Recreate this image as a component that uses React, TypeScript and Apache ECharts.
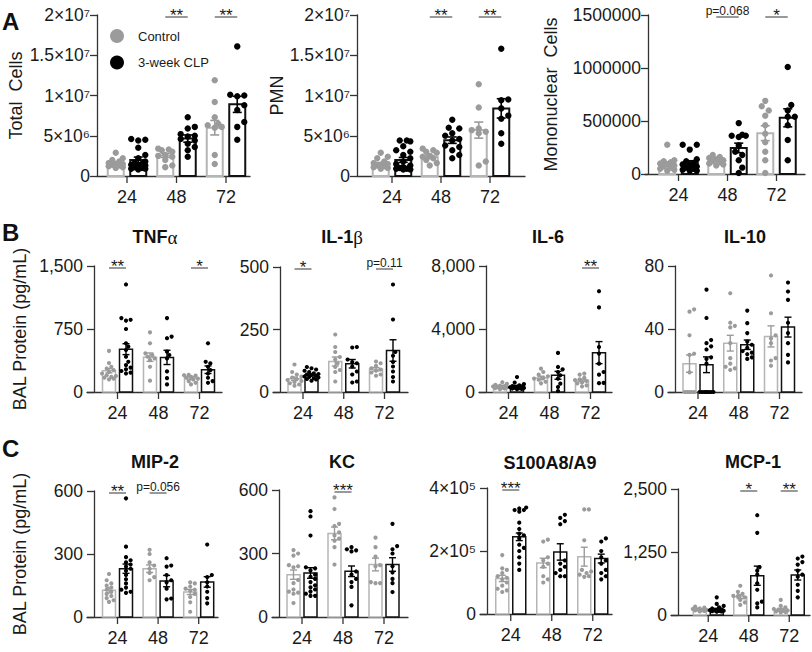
import React, { useEffect, useRef } from 'react';
import * as echarts from 'echarts';

const FONT = '"Liberation Sans", Arial, Helvetica, sans-serif';
const HOURS = ['24', '48', '72'];
const GROUPS = ['Control', '3-week CLP'];

// ---------- A: Total cells ----------
const TOTAL_CTRL_PTS = [
  [2.9e6, 2.2e6, 2.0e6, 1.8e6, 1.6e6, 1.5e6, 1.4e6, 1.4e6, 1.3e6, 1.2e6, 1.1e6, 1.0e6],
  [3.4e6, 3.3e6, 3.2e6, 3.0e6, 2.6e6, 2.5e6, 2.4e6, 2.0e6, 1.3e6, 1.1e6],
  [11.9e6, 9.2e6, 7.3e6, 6.5e6, 6.3e6, 6.1e6, 6.0e6, 2.6e6, 1.5e6],
];
const TOTAL_CTRL_MEAN = [1.6e6, 2.55e6, 6.0e6];
const TOTAL_CTRL_SEM = [0.2e6, 0.25e6, 0.9e6];
const TOTAL_CLP_PTS = [
  [4.6e6, 4.5e6, 4.4e6, 3.5e6, 2.6e6, 2.2e6, 1.8e6, 1.6e6, 1.5e6, 1.4e6, 1.3e6, 1.2e6, 1.1e6, 1.0e6, 0.9e6, 0.9e6, 0.8e6],
  [7.3e6, 6.1e6, 5.9e6, 5.2e6, 5.0e6, 4.9e6, 4.6e6, 4.4e6, 4.0e6, 3.6e6, 3.2e6, 2.4e6],
  [16.1e6, 10.1e6, 10.0e6, 9.9e6, 8.8e6, 8.2e6, 6.7e6, 6.1e6, 4.5e6],
];
const TOTAL_CLP_MEAN = [2.0e6, 4.65e6, 8.9e6];
const TOTAL_CLP_SEM = [0.35e6, 0.45e6, 1.0e6];
const TOTAL_SIG = ['', '**', '**'];
const TOTAL_TICKS = ['0', '5×10⁶', '1×10⁷', '1.5×10⁷', '2×10⁷'];

// ---------- A: PMN ----------
const PMN_CTRL_PTS = [
  [2.9e6, 2.4e6, 2.2e6, 1.8e6, 1.6e6, 1.5e6, 1.4e6, 1.3e6, 1.2e6, 1.1e6, 1.0e6, 0.9e6],
  [3.4e6, 3.2e6, 3.0e6, 2.9e6, 2.5e6, 2.4e6, 2.2e6, 2.0e6, 1.6e6, 1.3e6],
  [11.4e6, 8.5e6, 5.9e6, 5.7e6, 5.5e6, 5.3e6, 1.8e6, 1.3e6],
];
const PMN_CTRL_MEAN = [1.5e6, 2.35e6, 5.7e6];
const PMN_CTRL_SEM = [0.17e6, 0.2e6, 1.0e6];
const PMN_CLP_PTS = [
  [4.4e6, 4.4e6, 4.3e6, 3.7e6, 3.2e6, 3.0e6, 2.6e6, 2.2e6, 1.8e6, 1.5e6, 1.3e6, 1.1e6, 1.0e6, 0.9e6, 0.9e6, 0.8e6, 0.8e6],
  [7.0e6, 6.0e6, 5.9e6, 5.3e6, 5.0e6, 4.6e6, 4.4e6, 3.8e6, 3.6e6, 3.2e6, 2.6e6, 2.2e6],
  [15.8e6, 9.5e6, 9.4e6, 8.4e6, 7.5e6, 7.1e6, 5.3e6, 4.0e6],
];
const PMN_CLP_MEAN = [2.0e6, 4.45e6, 8.4e6];
const PMN_CLP_SEM = [0.3e6, 0.4e6, 1.2e6];
const PMN_SIG = ['', '**', '**'];

// ---------- A: Mononuclear cells ----------
const MONO_CTRL_PTS = [
  [2.75e5, 1.3e5, 1.2e5, 1.1e5, 1.0e5, 0.9e5, 0.8e5, 0.7e5, 0.6e5, 0.5e5, 0.4e5, 0.3e5],
  [1.8e5, 1.6e5, 1.5e5, 1.4e5, 1.3e5, 1.2e5, 1.1e5, 1.0e5, 0.9e5, 0.8e5],
  [6.9e5, 6.4e5, 6.0e5, 5.5e5, 4.6e5, 3.8e5, 3.0e5, 2.1e5, 1.3e5, 0.1e5],
];
const MONO_CTRL_MEAN = [0.95e5, 1.26e5, 3.85e5];
const MONO_CTRL_SEM = [0.2e5, 0.1e5, 0.7e5];
const MONO_CLP_PTS = [
  [2.75e5, 2.75e5, 2.3e5, 1.4e5, 1.2e5, 1.0e5, 0.9e5, 0.8e5, 0.7e5, 0.6e5, 0.5e5, 0.4e5, 0.3e5, 0.3e5],
  [4.8e5, 3.7e5, 3.6e5, 3.6e5, 3.5e5, 2.7e5, 2.1e5, 1.8e5, 1.3e5, 0.6e5, 0.1e5],
  [10.1e5, 6.5e5, 6.0e5, 5.4e5, 5.4e5, 4.6e5, 3.2e5, 1.3e5],
];
const MONO_CLP_MEAN = [1.05e5, 2.46e5, 5.3e5];
const MONO_CLP_SEM = [0.2e5, 0.45e5, 0.85e5];
const MONO_SIG = ['', 'p=0.068', '*'];
const MONO_TICKS = ['0', '500000', '1000000', '1500000'];

// ---------- B: TNFα ----------
const TNF_CTRL_PTS = [
  [490, 345, 300, 280, 260, 240, 220, 200, 190, 180, 170, 160, 150],
  [710, 580, 460, 440, 420, 400, 380, 300, 135],
  [205, 200, 195, 180, 170, 160, 150, 130, 110, 90],
];
const TNF_CTRL_MEAN = [253, 415, 166];
const TNF_CTRL_SEM = [25, 50, 18];
const TNF_CLP_PTS = [
  [1280, 880, 860, 850, 750, 580, 540, 500, 420, 360, 320, 290, 270, 250, 230, 220],
  [880, 660, 640, 480, 440, 400, 245, 165, 90],
  [580, 360, 340, 300, 260, 220, 170, 130, 110],
];
const TNF_CLP_MEAN = [510, 412, 265];
const TNF_CLP_SEM = [65, 85, 45];
const TNF_SIG = ['**', '', '*'];
const TNF_TICKS = ['0', '750', '1,500'];

// ---------- B: IL-1β ----------
const IL1_CTRL_PTS = [
  [110, 80, 70, 62, 58, 52, 48, 44, 40, 35, 30, 25],
  [230, 180, 160, 140, 130, 115, 100, 88, 80, 42],
  [122, 115, 105, 95, 90, 85, 78, 70, 65],
];
const IL1_CTRL_MEAN = [53, 122, 91];
const IL1_CTRL_SEM = [7, 18, 7];
const IL1_CLP_PTS = [
  [100, 95, 90, 85, 80, 75, 72, 70, 68, 65, 62, 60, 58, 55, 52, 50, 45],
  [180, 178, 130, 120, 115, 102, 82, 70, 42, 38],
  [430, 290, 160, 145, 120, 102, 82, 60, 42],
];
const IL1_CLP_MEAN = [69, 113, 166];
const IL1_CLP_SEM = [4, 17, 43];
const IL1_SIG = ['*', '', 'p=0.11'];
const IL1_TICKS = ['0', '250', '500'];

// ---------- B: IL-6 ----------
const IL6_CTRL_PTS = [
  [620, 520, 450, 400, 380, 350, 320, 300, 280, 250, 220, 180],
  [1480, 1270, 1100, 1000, 900, 850, 780, 650, 550],
  [1170, 1100, 900, 800, 750, 700, 600, 550, 420, 350],
];
const IL6_CTRL_MEAN = [380, 890, 740];
const IL6_CTRL_SEM = [40, 110, 80];
const IL6_CLP_PTS = [
  [950, 600, 500, 420, 380, 350, 320, 300, 280, 260, 240, 220, 200, 180],
  [2480, 1590, 1440, 1270, 1060, 850, 530, 320, 60],
  [6400, 5370, 2860, 2440, 1800, 1270, 1100, 580, 560],
];
const IL6_CLP_MEAN = [360, 1060, 2500];
const IL6_CLP_SEM = [60, 250, 700];
const IL6_SIG = ['', '', '**'];
const IL6_TICKS = ['0', '4,000', '8,000'];

// ---------- B: IL-10 ----------
const IL10_CTRL_PTS = [
  [52.5, 51, 36, 24.3, 23.6, 12.5, 0, 0, 0, 0, 0],
  [62.7, 44, 42, 41, 31, 21.5, 18, 16, 15, 14],
  [74, 50, 36, 34, 31, 21.5, 20, 16.7],
];
const IL10_CTRL_MEAN = [18, 31, 35.3];
const IL10_CTRL_SEM = [5.5, 5, 6.7];
const IL10_CLP_PTS = [
  [65, 47, 33, 31, 29, 27, 22, 21, 18, 0, 0, 0, 0, 0, 0, 0, 0],
  [51.7, 43.7, 37.4, 32, 30, 28, 26, 25, 24, 22, 21],
  [69.5, 63.8, 58.5, 44, 37.4, 31, 23.6, 18.8],
];
const IL10_CLP_MEAN = [17.3, 30, 41.2];
const IL10_CLP_SEM = [5, 3, 6.3];
const IL10_SIG = ['', '', ''];
const IL10_TICKS = ['0', '40', '80'];

// ---------- C: MIP-2 ----------
const MIP_CTRL_PTS = [
  [205, 175, 160, 150, 140, 130, 120, 110, 100, 90, 80, 72],
  [320, 300, 260, 245, 230, 210, 190, 175],
  [165, 160, 145, 135, 130, 125, 110, 95, 70, 25],
];
const MIP_CTRL_MEAN = [127, 230, 119];
const MIP_CTRL_SEM = [12, 18, 12];
const MIP_CLP_PTS = [
  [565, 335, 285, 270, 260, 250, 240, 230, 220, 200, 180, 160, 140, 130, 120, 115],
  [280, 245, 240, 200, 175, 165, 135, 88, 84],
  [345, 200, 190, 165, 145, 120, 90, 65],
];
const MIP_CLP_MEAN = [230, 171, 167];
const MIP_CLP_SEM = [22, 27, 25];
const MIP_SIG = ['**', 'p=0.056', ''];
const MIP_TICKS = ['0', '300', '600'];

// ---------- C: KC ----------
const KC_CTRL_PTS = [
  [316, 300, 290, 245, 240, 235, 175, 160, 130, 120, 115, 110, 66],
  [565, 510, 440, 430, 400, 385, 370, 360, 330, 248],
  [375, 330, 285, 245, 240, 165, 160, 160],
];
const KC_CTRL_MEAN = [200, 395, 248];
const KC_CTRL_SEM = [22, 30, 30];
const KC_CLP_PTS = [
  [500, 475, 385, 235, 230, 220, 200, 190, 180, 165, 150, 140, 130, 120, 110, 100, 100],
  [330, 320, 315, 310, 215, 200, 180, 165, 142, 55],
  [440, 335, 320, 300, 240, 210, 180, 160, 118],
];
const KC_CLP_MEAN = [208, 216, 248];
const KC_CLP_SEM = [25, 25, 32];
const KC_SIG = ['', '***', ''];
const KC_TICKS = ['0', '300', '600'];

// ---------- C: S100A8/A9 ----------
const S100_CTRL_PTS = [
  [1.87e5, 1.45e5, 1.4e5, 1.3e5, 1.2e5, 1.15e5, 1.1e5, 1.0e5, 0.9e5, 0.8e5, 0.75e5, 0.7e5],
  [2.36e5, 2.3e5, 1.8e5, 1.7e5, 1.6e5, 1.5e5, 1.2e5, 1.1e5, 1.0e5],
  [3.32e5, 3.32e5, 2.34e5, 1.4e5, 1.35e5, 1.3e5, 1.25e5, 1.2e5, 1.18e5],
];
const S100_CTRL_MEAN = [1.13e5, 1.62e5, 1.82e5];
const S100_CTRL_SEM = [0.1e5, 0.15e5, 0.3e5];
const S100_CLP_PTS = [
  [3.38e5, 3.35e5, 3.3e5, 3.3e5, 3.25e5, 2.9e5, 2.7e5, 2.55e5, 2.5e5, 2.4e5, 2.2e5, 2.1e5, 2.0e5, 1.8e5, 1.6e5, 1.4e5],
  [3.15e5, 3.05e5, 2.95e5, 2.85e5, 1.7e5, 1.6e5, 1.5e5, 1.4e5, 1.3e5, 1.2e5, 1.2e5],
  [2.4e5, 2.3e5, 2.0e5, 1.8e5, 1.7e5, 1.6e5, 1.4e5, 1.3e5, 1.2e5, 1.1e5],
];
const S100_CLP_MEAN = [2.45e5, 1.97e5, 1.76e5];
const S100_CLP_SEM = [0.12e5, 0.26e5, 0.14e5];
const S100_SIG = ['***', '', ''];
const S100_TICKS = ['0', '2×10⁵', '4×10⁵'];

// ---------- C: MCP-1 ----------
const MCP_CTRL_PTS = [
  [165, 145, 130, 120, 110, 100, 95, 90, 80, 70],
  [580, 460, 420, 380, 370, 350, 300, 250, 200],
  [300, 180, 150, 120, 100, 90, 80, 70, 60, 50],
];
const MCP_CTRL_MEAN = [112, 364, 112];
const MCP_CTRL_SEM = [10, 40, 20];
const MCP_CLP_PTS = [
  [350, 220, 180, 150, 130, 110, 100, 95, 90, 85, 80, 75, 70, 65],
  [1980, 1630, 950, 880, 800, 630, 500, 265, 230, 150],
  [1160, 1120, 1050, 1000, 880, 800, 760, 600, 480, 350],
];
const MCP_CLP_MEAN = [112, 780, 794];
const MCP_CLP_SEM = [20, 190, 100];
const MCP_SIG = ['', '*', '**'];
const MCP_TICKS = ['0', '1,250', '2,500'];

// ---------- styling ----------
const AXIS = '#333333';
const TXT = '#1a1a1a';
const COL = [
  { pt: '#9b9b9b', bar: '#b5b5b5', err: '#9b9b9b' },
  { pt: '#000000', bar: '#111111', err: '#000000' },
];
const ST_A = { barW: 16, bw: 2, ew: 1.6, d: 11.25, r: 3.2, cap: 9, tickFs: 17.5, lblMargin: 7, stub: 0 };
const ST_BC = { barW: 13, bw: 1.5, ew: 1.4, d: 8.5, r: 2.1, cap: 7, tickFs: 17.5, lblMargin: 11, stub: 7 };

const PANELS = [
  { yName: 'Total  Cells', nameGap: 72, max: 2e7, ticks: TOTAL_TICKS, st: ST_A,
    g: [[TOTAL_CTRL_PTS, TOTAL_CTRL_MEAN, TOTAL_CTRL_SEM], [TOTAL_CLP_PTS, TOTAL_CLP_MEAN, TOTAL_CLP_SEM]], sig: TOTAL_SIG,
    box: { axisX: 97, top: 15, bottom: 176, xEnd: 250, c0: 127, s: 49.5 } },
  { yName: 'PMN', nameGap: 62, max: 2e7, ticks: TOTAL_TICKS, st: ST_A,
    g: [[PMN_CTRL_PTS, PMN_CTRL_MEAN, PMN_CTRL_SEM], [PMN_CLP_PTS, PMN_CLP_MEAN, PMN_CLP_SEM]], sig: PMN_SIG,
    box: { axisX: 357, top: 15, bottom: 176, xEnd: 525, c0: 392, s: 49 } },
  { yName: 'Mononuclear  Cells', nameGap: 88, max: 1.5e6, ticks: MONO_TICKS, st: { ...ST_A, stub: 3 },
    g: [[MONO_CTRL_PTS, MONO_CTRL_MEAN, MONO_CTRL_SEM], [MONO_CLP_PTS, MONO_CLP_MEAN, MONO_CLP_SEM]], sig: MONO_SIG,
    box: { axisX: 648, top: 15, bottom: 174, xEnd: 805, c0: 678.5, s: 49 } },
  { yName: 'BAL Protein (pg/mL)', nameGap: 65, max: 1500, ticks: TNF_TICKS, st: ST_BC,
    g: [[TNF_CTRL_PTS, TNF_CTRL_MEAN, TNF_CTRL_SEM], [TNF_CLP_PTS, TNF_CLP_MEAN, TNF_CLP_SEM]], sig: TNF_SIG,
    box: { axisX: 94, top: 266, bottom: 392, xEnd: 222, c0: 117.5, s: 41 } },
  { yName: '', nameGap: 0, max: 500, ticks: IL1_TICKS, st: ST_BC,
    g: [[IL1_CTRL_PTS, IL1_CTRL_MEAN, IL1_CTRL_SEM], [IL1_CLP_PTS, IL1_CLP_MEAN, IL1_CLP_SEM]], sig: IL1_SIG,
    box: { axisX: 280, top: 267, bottom: 392, xEnd: 408, c0: 303, s: 40.75 } },
  { yName: '', nameGap: 0, max: 8000, ticks: IL6_TICKS, st: ST_BC,
    g: [[IL6_CTRL_PTS, IL6_CTRL_MEAN, IL6_CTRL_SEM], [IL6_CLP_PTS, IL6_CLP_MEAN, IL6_CLP_SEM]], sig: IL6_SIG,
    box: { axisX: 486, top: 266, bottom: 392, xEnd: 612, c0: 508.5, s: 41 } },
  { yName: '', nameGap: 0, max: 80, ticks: IL10_TICKS, st: ST_BC,
    g: [[IL10_CTRL_PTS, IL10_CTRL_MEAN, IL10_CTRL_SEM], [IL10_CLP_PTS, IL10_CLP_MEAN, IL10_CLP_SEM]], sig: IL10_SIG,
    box: { axisX: 675, top: 266, bottom: 392, xEnd: 802, c0: 698, s: 40.75 } },
  { yName: 'BAL Protein (pg/mL)', nameGap: 65, max: 600, ticks: MIP_TICKS, st: ST_BC,
    g: [[MIP_CTRL_PTS, MIP_CTRL_MEAN, MIP_CTRL_SEM], [MIP_CLP_PTS, MIP_CLP_MEAN, MIP_CLP_SEM]], sig: MIP_SIG,
    box: { axisX: 94, top: 491, bottom: 617, xEnd: 218, c0: 117.5, s: 40.6 } },
  { yName: '', nameGap: 0, max: 600, ticks: KC_TICKS, st: ST_BC,
    g: [[KC_CTRL_PTS, KC_CTRL_MEAN, KC_CTRL_SEM], [KC_CLP_PTS, KC_CLP_MEAN, KC_CLP_SEM]], sig: KC_SIG,
    box: { axisX: 279, top: 490, bottom: 617, xEnd: 408, c0: 302, s: 41 } },
  { yName: '', nameGap: 0, max: 4e5, ticks: S100_TICKS, st: ST_BC,
    g: [[S100_CTRL_PTS, S100_CTRL_MEAN, S100_CTRL_SEM], [S100_CLP_PTS, S100_CLP_MEAN, S100_CLP_SEM]], sig: S100_SIG,
    box: { axisX: 487, top: 488, bottom: 614, xEnd: 612, c0: 510.75, s: 41 } },
  { yName: '', nameGap: 0, max: 2500, ticks: MCP_TICKS, st: ST_BC,
    g: [[MCP_CTRL_PTS, MCP_CTRL_MEAN, MCP_CTRL_SEM], [MCP_CLP_PTS, MCP_CLP_MEAN, MCP_CLP_SEM]], sig: MCP_SIG,
    box: { axisX: 678, top: 489, bottom: 615, xEnd: 810, c0: 708.25, s: 40.5 } },
];

const TITLES = [
  { text: '{b|TNF}{g|α}', x: 155, y: 237 },
  { text: '{b|IL-1}{g|β}', x: 342, y: 237 },
  { text: '{b|IL-6}', x: 548, y: 237 },
  { text: '{b|IL-10}', x: 745, y: 237 },
  { text: '{b|MIP-2}', x: 155, y: 462 },
  { text: '{b|KC}', x: 342, y: 462 },
  { text: '{b|S100A8/A9}', x: 550, y: 463 },
  { text: '{b|MCP-1}', x: 753, y: 462 },
];
const LETTERS = [
  { text: 'A', x: 2, y: 21 },
  { text: 'B', x: 2, y: 232 },
  { text: 'C', x: 2, y: 448 },
];

function swarm(ys: number[], r: number, lim: number): number[] {
  const n = ys.length;
  const xs = new Array(n).fill(0);
  const order = ys.map((_, i) => i).sort((a, b) => ys[b] - ys[a]);
  const placed: number[] = [];
  const step = r * 1.1;
  const minD = r * 2 * 0.95;
  for (const i of order) {
    let best = 0;
    let bestScore = -Infinity;
    for (let m = 0; m < 60; m++) {
      const off = (m % 2 === 1 ? 1 : -1) * Math.ceil(m / 2) * step;
      if (Math.abs(off) > lim) continue;
      let dmin = Infinity;
      for (const j of placed) {
        const dx = off - xs[j];
        const dy = ys[i] - ys[j];
        dmin = Math.min(dmin, Math.sqrt(dx * dx + dy * dy));
      }
      if (dmin >= minD) { best = off; break; }
      if (dmin > bestScore) { bestScore = dmin; best = off; }
    }
    xs[i] = best;
    placed.push(i);
  }
  return xs;
}

function makeBarRender(pts: number[][], g: number, st: any) {
  const col = COL[g];
  return (_params: any, api: any) => {
    const k = api.value(0);
    const mean = api.value(1);
    const sem = api.value(2);
    const base = api.coord([k, 0]);
    const cx = base[0] + (g === 0 ? -st.d : st.d);
    const y0 = base[1];
    const ym = api.coord([k, mean])[1];
    const yHi = api.coord([k, mean + sem])[1];
    const yLo = api.coord([k, Math.max(0, mean - sem)])[1];
    const children: any[] = [];
    children.push({ type: 'rect', shape: { x: cx - st.barW / 2, y: ym, width: st.barW, height: y0 - ym },
      style: { fill: '#ffffff', stroke: col.bar, lineWidth: st.bw } });
    const ys = pts[k].map((v: number) => api.coord([k, v])[1]);
    const xs = swarm(ys, st.r, st.barW / 2 + st.r * 0.8);
    ys.forEach((y: number, j: number) => children.push({ type: 'circle', shape: { cx: cx + xs[j], cy: y, r: st.r }, style: { fill: col.pt } }));
    const h = st.cap / 2;
    const es = { stroke: col.err, lineWidth: st.ew };
    children.push({ type: 'line', shape: { x1: cx, y1: yHi, x2: cx, y2: yLo }, style: es });
    children.push({ type: 'line', shape: { x1: cx - h, y1: yHi, x2: cx + h, y2: yHi }, style: es });
    children.push({ type: 'line', shape: { x1: cx - h, y1: yLo, x2: cx + h, y2: yLo }, style: es });
    return { type: 'group', children };
  };
}

function makeDecorRender(p: any) {
  return (_params: any, api: any) => {
    const k = api.value(0);
    const base = api.coord([k, 0]);
    const children: any[] = [
      { type: 'line', shape: { x1: base[0], y1: base[1], x2: base[0], y2: base[1] + 7 }, style: { stroke: AXIS, lineWidth: 1.3 } },
      { type: 'text', x: base[0], y: base[1] + 12, style: { text: HOURS[k], fontSize: 18, fontFamily: FONT, fill: TXT, align: 'center', verticalAlign: 'top' } },
    ];
    const s = p.sig[k];
    if (s) {
      const yl = api.coord([k, p.max])[1] + 2;
      children.push({ type: 'line', shape: { x1: base[0] - p.st.d, y1: yl, x2: base[0] + p.st.d, y2: yl }, style: { stroke: '#555555', lineWidth: 1.2 } });
      const isP = s.charAt(0) === 'p';
      children.push({ type: 'text', x: base[0], y: isP ? yl - 0.5 : yl + 7,
        style: { text: s, fontSize: isP ? 12 : 17, fontFamily: FONT, fill: TXT, align: 'center', verticalAlign: 'bottom' } });
    }
    return { type: 'group', children };
  };
}

function buildOption() {
  const grid: any[] = [];
  const xAxis: any[] = [];
  const yAxis: any[] = [];
  const series: any[] = [];
  PANELS.forEach((p, i) => {
    const b = p.box;
    const st = p.st;
    const gl = b.axisX - st.stub;
    grid.push({ left: gl, top: b.top, width: b.xEnd - gl, height: b.bottom - b.top, containLabel: false });
    xAxis.push({
      gridIndex: i, type: 'value', min: (gl - b.c0) / b.s, max: (b.xEnd - b.c0) / b.s,
      axisLine: { show: true, onZero: false, lineStyle: { color: AXIS, width: 1.3 } },
      axisTick: { show: false }, axisLabel: { show: false }, splitLine: { show: false },
    });
    const interval = p.max / (p.ticks.length - 1);
    yAxis.push({
      gridIndex: i, type: 'value', min: 0, max: p.max, interval, offset: -st.stub,
      axisLine: { show: true, onZero: false, lineStyle: { color: AXIS, width: 1.3 } },
      axisTick: { show: true, length: 7, lineStyle: { color: AXIS, width: 1.3 } },
      axisLabel: { margin: st.lblMargin, fontSize: st.tickFs, fontFamily: FONT, color: TXT,
        formatter: (v: number) => p.ticks[Math.round(v / interval)] ?? '' },
      splitLine: { show: false },
      name: p.yName, nameLocation: 'middle', nameGap: p.nameGap,
      nameTextStyle: { fontSize: 18, fontFamily: FONT, color: TXT },
    });
    p.g.forEach((grp: any, g: number) => {
      const [pts, mean, sem] = grp;
      series.push({
        type: 'custom', name: GROUPS[g], xAxisIndex: i, yAxisIndex: i, clip: false, silent: true,
        itemStyle: { color: COL[g].pt },
        data: HOURS.map((_, k) => [k, mean[k], sem[k]]),
        encode: { x: 0, y: 1 },
        renderItem: makeBarRender(pts, g, st),
      });
    });
    series.push({
      type: 'custom', xAxisIndex: i, yAxisIndex: i, clip: false, silent: true, z: 5,
      data: HOURS.map((_, k) => [k, 0]), encode: { x: 0, y: 1 },
      renderItem: makeDecorRender(p),
    });
  });

  const graphic: any[] = [];
  LETTERS.forEach((l) => graphic.push({ type: 'text', x: l.x, y: l.y,
    style: { text: l.text, fontSize: 24, fontWeight: 'bold', fontFamily: FONT, fill: '#111111', align: 'left', verticalAlign: 'middle' } }));
  TITLES.forEach((t) => graphic.push({ type: 'text', x: t.x, y: t.y,
    style: { text: t.text, align: 'center', verticalAlign: 'middle',
      rich: {
        b: { fontSize: 18, fontWeight: 'bold', fontFamily: FONT, fill: '#111111' },
        g: { fontSize: 19, fontFamily: '"Liberation Serif", "DejaVu Serif", serif', fill: '#111111' },
      } } }));

  return {
    animation: false,
    backgroundColor: '#ffffff',
    grid, xAxis, yAxis, series, graphic,
    legend: {
      data: GROUPS, orient: 'vertical', left: 110, top: 29, padding: 0, icon: 'circle',
      itemWidth: 14, itemHeight: 14, itemGap: 12.5, selectedMode: false,
      textStyle: { fontSize: 13, fontFamily: FONT, color: TXT, padding: [0, 0, 0, 9] },
    },
  };
}

export default function App() {
  const ref = useRef<HTMLDivElement>(null);
  useEffect(() => {
    const chart = echarts.init(ref.current as HTMLDivElement, undefined, { renderer: 'svg' });
    chart.setOption(buildOption() as any);
    return () => chart.dispose();
  }, []);
  return <div ref={ref} style={{ position: 'absolute', left: 0, top: 0, width: 812, height: 652, background: '#fff' }} />;
}
